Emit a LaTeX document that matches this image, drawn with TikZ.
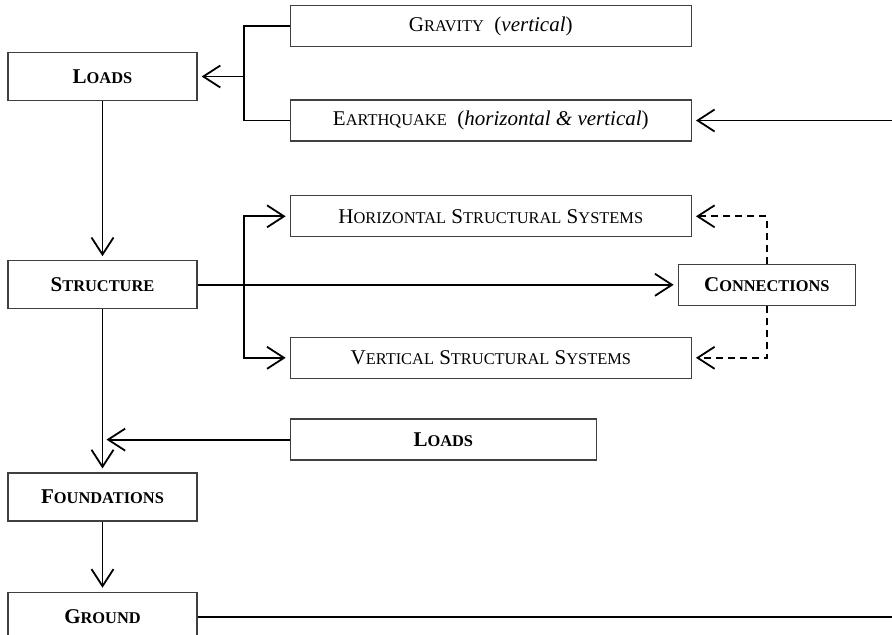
\documentclass[tikz,border=0pt]{standalone}
\usepackage{fontspec}
\setmainfont{Liberation Serif}
\usetikzlibrary{arrows.meta, positioning}
\newcommand{\scp}[1]{{\fontsize{8.2pt}{10pt}\selectfont #1}}

\begin{document}
\begin{tikzpicture}[>={Straight Barb[length=8.5pt,width=11pt]}, font=\fontsize{10.5pt}{12pt}\selectfont,
    sidebox/.style={draw=black!75, line width=0.65pt, minimum width=94.5pt, minimum height=24pt, inner sep=0pt, font=\fontsize{10.5pt}{12pt}\selectfont\bfseries},
    wide/.style={draw=black!75, line width=0.65pt, minimum width=200.5pt, minimum height=20.5pt, inner sep=0pt},
    link/.style={line width=0.9pt},
    flow/.style={link, ->, shorten >=2pt}]
    \useasboundingbox (0,0) rectangle (446pt,-317pt);
    \node[sidebox] (loads) at (51.25pt,-38.25pt) {L\scp{OADS}};
    \node[wide, right=46pt of loads, yshift=25.25pt] (gravity) {G\scp{RAVITY}\ \ (\textit{vertical})};
    \node[wide, right=46pt of loads, yshift=-22pt] (quake) {E\scp{ARTHQUAKE}\ \ (\textit{horizontal \& vertical})};
    \node[sidebox, below=79.5pt of loads] (structure) {S\scp{TRUCTURE}};
    \node[wide, right=46pt of structure, yshift=34.25pt] (horiz) {H\scp{ORIZONTAL} S\scp{TRUCTURAL} S\scp{YSTEMS}};
    \node[wide, right=46pt of structure, yshift=-36.5pt] (vert) {V\scp{ERTICAL} S\scp{TRUCTURAL} S\scp{YSTEMS}};
    \node[sidebox, minimum width=88.5pt, minimum height=20.5pt, right=240pt of structure] (conn) {C\scp{ONNECTIONS}};
    \node[sidebox, below=81.5pt of structure] (found) {F\scp{OUNDATIONS}};
    \node[sidebox, minimum width=153pt, minimum height=20.5pt, right=46pt of found, yshift=28.75pt] (loadsb) {L\scp{OADS}};
    \node[sidebox, minimum height=24.5pt, below=35pt of found] (ground) {G\scp{ROUND}};
    \coordinate (rim) at (446pt,0);
    % loads
    \draw[link] (gravity.west) -- ++(-23pt,0) coordinate (lj) |- (quake.west);
    \draw[flow] (lj |- loads.east) -- (loads.east);
    \draw[flow] (quake.east -| rim) -- (quake.east);
    \draw[flow] (loads) -- (structure);
    % structure
    \draw[flow] (structure) -- (conn);
    \draw[flow, <->, shorten <=2pt] (horiz.west) -- ++(-23pt,0) |- (vert.west);
    \draw[flow, dash pattern=on 3.5pt off 2.5pt] (conn.north) |- (horiz.east);
    \draw[flow, dash pattern=on 3.5pt off 2.5pt] (conn.south) |- (vert.east);
    % foundations and ground
    \draw[flow] (structure) -- (found);
    \draw[flow] (loadsb.west) -- (loadsb.west -| structure.south);
    \draw[flow] (found) -- (ground);
    \draw[link] (ground.east) -- (ground.east -| rim);
\end{tikzpicture}
\end{document}
